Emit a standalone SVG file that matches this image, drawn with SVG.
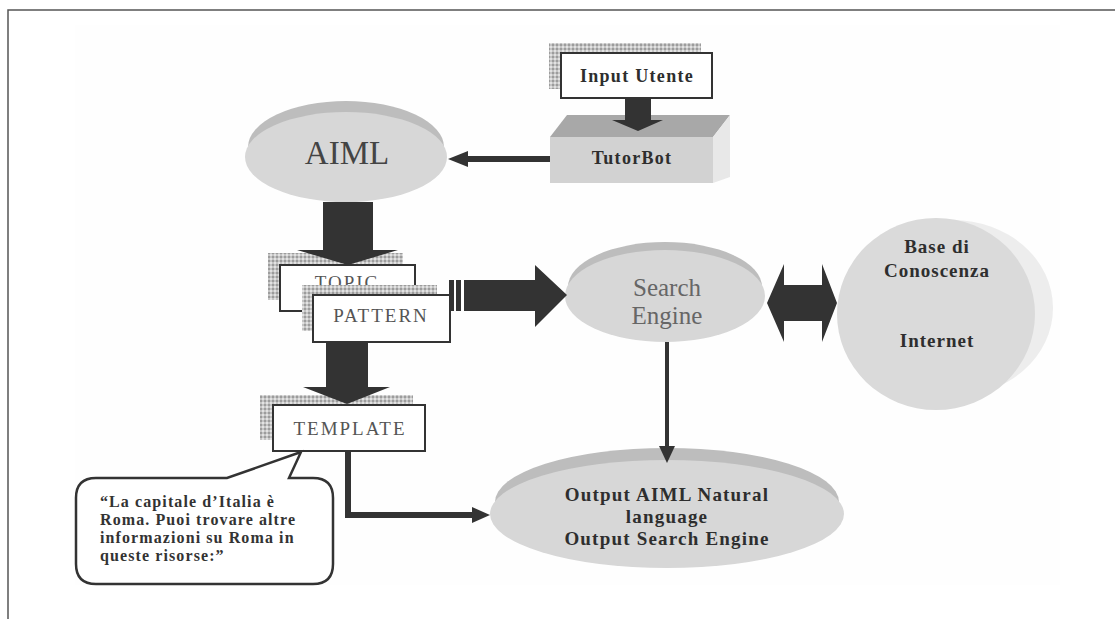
<svg xmlns="http://www.w3.org/2000/svg" width="1115" height="619" viewBox="0 0 1115 619">
<defs>
<pattern id="dots" width="4" height="4" patternUnits="userSpaceOnUse">
<rect width="4" height="4" fill="#c4c4c4"/>
<rect x="0" y="0" width="2" height="2" fill="#9c9c9c"/>
<rect x="2" y="2" width="2" height="2" fill="#e2e2e2"/>
</pattern>
</defs>
<style>
.box{fill:#fff;stroke:#333;stroke-width:2}
.shadow{fill:url(#dots)}
.arrow{fill:#333}
.line{fill:none;stroke:#333}
.rim{fill:#bdbdbd}
.face{fill:#d7d7d7}
.t{font-family:"Liberation Serif",serif;text-anchor:middle}
.b{font-weight:bold;fill:#2e2e2e}
.r{fill:#555}
</style>
<rect x="0" y="0" width="1115" height="619" fill="#fff"/>
<rect x="75" y="25" width="985" height="560" fill="#fefefe"/>
<path d="M8,619 L8,10 L1115,10" fill="none" stroke="#555" stroke-width="1.5"/>

<g id="input-utente">
<rect class="shadow" x="549" y="43" width="152" height="46"/>
<rect class="box" x="561" y="53" width="151" height="45"/>
<text class="t b" x="637" y="82" font-size="18" letter-spacing="1.3">Input Utente</text>
</g>

<g id="tutorbot">
<polygon points="550,137 713,137 730,115 567,115" fill="#a8a8a8"/>
<rect x="550" y="137" width="163" height="46" fill="#d2d2d2"/>
<polygon points="713,137 730,115 730,177 713,183" fill="#e8e8e8"/>
<text class="t b" x="632" y="164" font-size="18" letter-spacing="1.3">TutorBot</text>
</g>

<g id="aiml">
<ellipse class="rim" cx="346" cy="147" rx="98" ry="46"/>
<ellipse class="face" cx="346" cy="157" rx="101" ry="45"/>
<text class="t" x="347" y="164" font-size="33" fill="#444">AIML</text>
</g>

<g id="topic">
<rect class="shadow" x="268" y="253" width="135" height="47"/>
<rect class="box" x="280" y="265" width="135" height="46"/>
<text class="t r" x="347" y="289" font-size="19" letter-spacing="2">TOPIC</text>
</g>

<g id="pattern">
<rect class="shadow" x="302" y="285" width="135" height="46"/>
<rect class="box" x="313" y="295" width="137" height="47"/>
<text class="t r" x="381" y="322" font-size="19" letter-spacing="2">PATTERN</text>
</g>

<g id="template">
<rect class="shadow" x="260" y="395" width="153" height="45"/>
<rect class="box" x="273" y="405" width="152" height="46"/>
<text class="t r" x="350" y="435" font-size="19" letter-spacing="2">TEMPLATE</text>
</g>

<g id="search-engine">
<ellipse class="rim" cx="665" cy="287" rx="97" ry="45"/>
<ellipse class="face" cx="665" cy="296" rx="100" ry="46"/>
<text class="t" x="667" y="296" font-size="25" fill="#666">Search</text>
<text class="t" x="667" y="324" font-size="25" fill="#666">Engine</text>
</g>

<g id="base-conoscenza">
<ellipse cx="953" cy="308" rx="100" ry="88" fill="#ededed"/>
<ellipse cx="936" cy="314" rx="99" ry="96" fill="#dadada"/>
<text class="t b" x="937" y="253" font-size="19" letter-spacing="1">Base di</text>
<text class="t b" x="937" y="277" font-size="19" letter-spacing="1">Conoscenza</text>
<text class="t b" x="937" y="347" font-size="19" letter-spacing="1">Internet</text>
</g>

<g id="output">
<ellipse class="rim" cx="667" cy="502" rx="172" ry="54"/>
<ellipse class="face" cx="667" cy="514" rx="177" ry="54"/>
<text class="t b" x="667" y="501" font-size="19" letter-spacing="1.2">Output AIML Natural</text>
<text class="t b" x="667" y="523" font-size="19" letter-spacing="1.2">language</text>
<text class="t b" x="667" y="545" font-size="19" letter-spacing="1.2">Output Search Engine</text>
</g>

<g id="callout">
<path d="M96,478 L227,478 L301,452 L289,478 L313,478 Q333,478 333,498 L333,564 Q333,584 313,584 L96,584 Q76,584 76,564 L76,498 Q76,478 96,478 Z" fill="#fff" stroke="#333" stroke-width="2.5"/>
<text font-family="Liberation Serif, serif" font-weight="bold" font-size="16" fill="#333" letter-spacing="1.1">
<tspan x="100" y="507">“La capitale d’Italia è</tspan>
<tspan x="100" y="525">Roma. Puoi trovare altre</tspan>
<tspan x="100" y="543">informazioni su Roma in</tspan>
<tspan x="100" y="561">queste risorse:”</tspan>
</text>
</g>

<g id="connectors">
<polygon class="arrow" points="625,98 651,98 651,120 663,120 638,131 612,120 625,120"/>
<line class="line" x1="550" y1="159" x2="466" y2="159" stroke-width="6"/>
<polygon class="arrow" points="448,159 468,151 468,167"/>
<polygon class="arrow" points="323,202 373,202 373,250 398,250 348,265 297,250 323,250"/>
<polygon class="arrow" points="326,343 368,343 368,387 390,387 347,404 303,387 326,387"/>
<rect class="arrow" x="449" y="280" width="5" height="31"/>
<rect class="arrow" x="456" y="280" width="5" height="31"/>
<polygon class="arrow" points="464,280 535,280 535,265 567,295 535,327 535,311 464,311"/>
<polygon class="arrow" points="767,303 784,264 784,285 822,285 822,264 837,303 822,342 822,321 784,321 784,342"/>
<line class="line" x1="667" y1="342" x2="667" y2="448" stroke-width="4"/>
<polygon class="arrow" points="659,446 675,446 667,463"/>
<polyline class="line" points="348,452 348,515 474,515" stroke-width="6"/>
<polygon class="arrow" points="490,515 472,507 472,523"/>
</g>
</svg>
